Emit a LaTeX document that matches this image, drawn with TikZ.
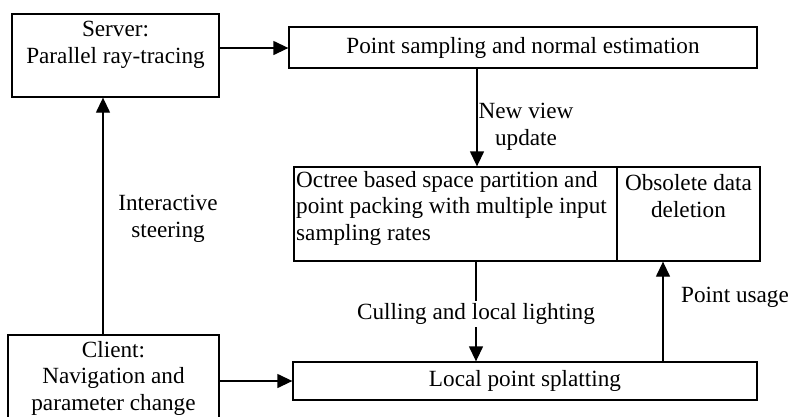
\documentclass[tikz,border=0pt]{standalone}
\usepackage{fontspec}
\setmainfont{Liberation Serif}
\usetikzlibrary{arrows.meta}
\begin{document}
\begin{tikzpicture}[x=1pt,y=-1pt,
  font=\fontsize{23.2}{26.5}\selectfont,
  box/.style={draw, line width=1.3pt, inner sep=0pt},
  txt/.style={inner sep=0pt, align=center},
  arr/.style={line width=1.3pt, -{Triangle[length=15pt,width=14pt]}}]
\clip (0,0) rectangle (790,416);
\fill[white] (0,0) rectangle (790,416);

% boxes
\node[box, minimum width=207pt, minimum height=83pt] (server) at (115.5,55.5) {};
\node[txt] (servertxt) at (115.5,45) {Server:\\Parallel ray-tracing};
\node[box, minimum width=468pt, minimum height=41pt] (sampling) at (523,47.5)
  {Point sampling and normal estimation};
\node[box, minimum width=323pt, minimum height=94pt] (octree) at (455.5,214) {};
\node[txt, align=left, anchor=west] (octreetxt) at (296,208)
  {Octree based space partition and\\point packing with multiple input\\sampling rates};
\node[box, minimum width=143pt, minimum height=94pt] (obsolete) at (688.5,214) {};
\node[txt] (obsoletetxt) at (688.5,196) {Obsolete data\\deletion};
\node[box, minimum width=464pt, minimum height=38pt] (splat) at (525,381)
  {Local point splatting};
\node[box, minimum width=211pt, minimum height=86pt] (client) at (113.5,378) {};
\node[txt] (clienttxt) at (113.5,378) {Client:\\Navigation and\\parameter change};

% connector columns
\coordinate (steer) at (103,0);
\coordinate (newview) at (477,0);
\coordinate (cull) at (476,0);
\coordinate (usage) at (663,0);

% connectors
\draw[arr] (server.east |- 0,48) -- (sampling.west |- 0,48);
\draw[arr] (client.east |- 0,381) -- (splat.west |- 0,381);
\draw[arr] (client.north -| steer) -- (server.south -| steer);
\draw[arr] (sampling.south -| newview) -- (octree.north -| newview);
\draw[arr] (octree.south -| cull) -- (splat.north -| cull);
\draw[arr] (splat.north -| usage) -- (obsolete.south -| usage);

% connector labels
\node[txt] (steerlbl) at (168,219) {Interactive\\steering};
\node[txt] (newviewlbl) at (526,127) {New view\\update};
\node[txt, fill=white, inner ysep=2pt] (culllbl) at (476,314) {Culling and local lighting};
\node[txt, anchor=west] (usagelbl) at (681,297) {Point usage};
\end{tikzpicture}
\end{document}
